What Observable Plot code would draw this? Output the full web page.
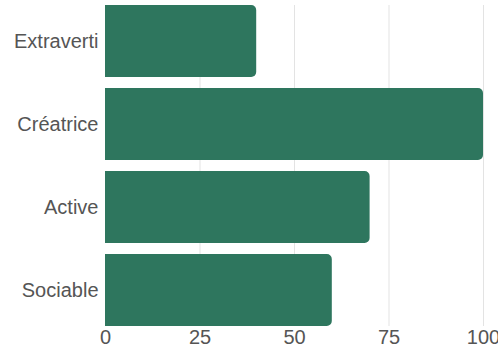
<!DOCTYPE html>
<html><head><meta charset="utf-8">
<script src="https://cdn.jsdelivr.net/npm/d3@7"></script>
<script src="https://cdn.jsdelivr.net/npm/@observablehq/plot@0.6"></script>
<style>body{margin:0;background:#fff}</style>
</head><body><div id="chart"></div>
<script>
const categories = ["Extraverti", "Créatrice", "Active", "Sociable"];
const values = [40, 100, 70, 60];
const xTicks = [0, 25, 50, 75, 100];
const data = categories.map((c, i) => ({category: c, value: values[i]}));
const chart = Plot.plot({
  width: 498, height: 348,
  marginLeft: 105, marginRight: 15, marginTop: 5, marginBottom: 22,
  style: {fontFamily: "'Liberation Sans', Arial, sans-serif", fontSize: "20px", color: "#555", background: "#fff"},
  x: {domain: [0, 100], range: [105, 483], ticks: xTicks, label: null},
  y: {domain: categories, paddingInner: 0.1325, paddingOuter: 0, round: false, label: null},
  marks: [
    Plot.gridX(xTicks.filter(d => d > 0), {stroke: "#e3e3e3", strokeOpacity: 1}),
    Plot.barX(data, {x: "value", y: "category", fill: "#2e765e", rx2: 5}),
    Plot.axisX({ticks: xTicks, tickSize: 0, tickPadding: 3, fill: "#555", fontSize: 20}),
    Plot.axisY({tickSize: 0, tickPadding: 7, fill: "#555", fontSize: 20})
  ]
});
document.getElementById("chart").appendChild(chart);
</script>
</body></html>
